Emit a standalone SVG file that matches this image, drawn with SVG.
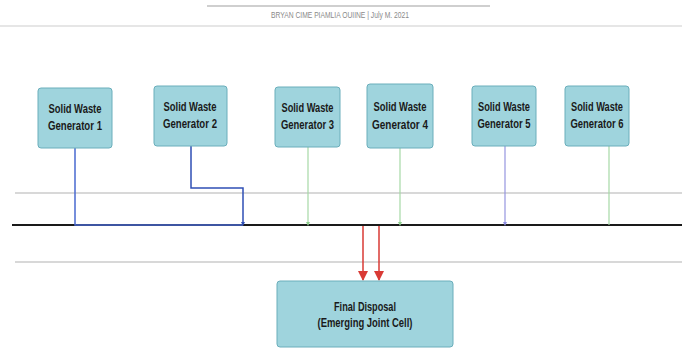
<svg xmlns="http://www.w3.org/2000/svg" width="682" height="349" viewBox="0 0 682 349">
<style>
.node rect{fill:#9fd4dd;stroke:#6aaebb;stroke-width:1}
.node text{font-family:"Liberation Sans",Arial,sans-serif;font-size:12.5px;fill:#1a1a1a;text-anchor:middle;font-weight:bold}
.guide{stroke:#d8d8d8;stroke-width:2;fill:none}
.hdr{font-family:"Liberation Sans",Arial,sans-serif;font-size:9px;fill:#8a8a8a;text-anchor:middle}
</style>
<defs>
<marker id="ab" markerWidth="4" markerHeight="4" refX="2" refY="2" orient="auto" markerUnits="userSpaceOnUse"><path d="M0,0 L4,2 L0,4 Z" fill="#2f4fb5"/></marker>
<marker id="ag" markerWidth="4" markerHeight="4" refX="2" refY="2" orient="auto" markerUnits="userSpaceOnUse"><path d="M0,0 L4,2 L0,4 Z" fill="#8fcf8f"/></marker>
<marker id="ap" markerWidth="4" markerHeight="4" refX="2" refY="2" orient="auto" markerUnits="userSpaceOnUse"><path d="M0,0 L4,2 L0,4 Z" fill="#8d8de0"/></marker>
<marker id="ar" markerWidth="10" markerHeight="10" refX="9" refY="5" orient="auto" markerUnits="userSpaceOnUse"><path d="M0,0 L10,5 L0,10 Z" fill="#d93a35"/></marker>
</defs>
<rect width="682" height="349" fill="#ffffff"/>
<g id="header">
<line x1="207" y1="6" x2="490" y2="6" stroke="#a0a0a0" stroke-width="1.2"/>
<text class="hdr" x="340" y="18" textLength="138" lengthAdjust="spacingAndGlyphs">BRYAN CIME PIAMLIA OUIINE |  July M. 2021</text>
<line x1="0" y1="26" x2="682" y2="26" stroke="#e6e6e6" stroke-width="2"/>
</g>
<g id="guides">
<line class="guide" x1="15" y1="193" x2="682" y2="193"/>
<line class="guide" x1="15" y1="262" x2="682" y2="262"/>
</g>
<g id="connectors" fill="none">
<line x1="12" y1="225" x2="682" y2="225" stroke="#1a1a1a" stroke-width="2"/>
<path d="M75,148 V225 H243" stroke="#4a6ad0" stroke-width="1.5"/>
<path d="M191,146 V188 H243 V224" stroke="#2f4fb5" stroke-width="1.5" marker-end="url(#ab)"/>
<line x1="308" y1="147" x2="308" y2="224" stroke="#a6d9a6" stroke-width="1.2" marker-end="url(#ag)"/>
<line x1="400" y1="148" x2="400" y2="224" stroke="#a6d9a6" stroke-width="1.2" marker-end="url(#ag)"/>
<line x1="505" y1="146" x2="505" y2="224" stroke="#9595e0" stroke-width="1.2" marker-end="url(#ap)"/>
<line x1="609" y1="146" x2="609" y2="225" stroke="#a6d9a6" stroke-width="1.2"/>
<line x1="363" y1="226" x2="363" y2="280" stroke="#d93a35" stroke-width="1.5" marker-end="url(#ar)"/>
<line x1="379" y1="226" x2="379" y2="280" stroke="#d93a35" stroke-width="1.5" marker-end="url(#ar)"/>
</g>
<g id="gen1" class="node"><rect x="38" y="88" width="74" height="60" rx="3"/><text x="75" y="113" textLength="53" lengthAdjust="spacingAndGlyphs">Solid Waste</text><text x="75" y="130" textLength="54" lengthAdjust="spacingAndGlyphs">Generator 1</text></g>
<g id="gen2" class="node"><rect x="154" y="86" width="73" height="60" rx="3"/><text x="190" y="111" textLength="53" lengthAdjust="spacingAndGlyphs">Solid Waste</text><text x="190" y="128" textLength="54" lengthAdjust="spacingAndGlyphs">Generator 2</text></g>
<g id="gen3" class="node"><rect x="275" y="87" width="65" height="60" rx="3"/><text x="307.5" y="112" textLength="52" lengthAdjust="spacingAndGlyphs">Solid Waste</text><text x="307.5" y="129" textLength="53" lengthAdjust="spacingAndGlyphs">Generator 3</text></g>
<g id="gen4" class="node"><rect x="367" y="84" width="66" height="64" rx="3"/><text x="400" y="111" textLength="53" lengthAdjust="spacingAndGlyphs">Solid Waste</text><text x="400" y="129" textLength="56" lengthAdjust="spacingAndGlyphs">Generator 4</text></g>
<g id="gen5" class="node"><rect x="472" y="86" width="64" height="60" rx="3"/><text x="504" y="111" textLength="52" lengthAdjust="spacingAndGlyphs">Solid Waste</text><text x="504" y="128" textLength="53" lengthAdjust="spacingAndGlyphs">Generator 5</text></g>
<g id="gen6" class="node"><rect x="565" y="86" width="64" height="60" rx="3"/><text x="597" y="111" textLength="52" lengthAdjust="spacingAndGlyphs">Solid Waste</text><text x="597" y="128" textLength="53" lengthAdjust="spacingAndGlyphs">Generator 6</text></g>
<g id="final" class="node"><rect x="277" y="281" width="176" height="66" rx="3"/><text x="365" y="311" textLength="62" lengthAdjust="spacingAndGlyphs">Final Disposal</text><text x="365" y="327" textLength="95" lengthAdjust="spacingAndGlyphs">(Emerging Joint Cell)</text></g>
</svg>
